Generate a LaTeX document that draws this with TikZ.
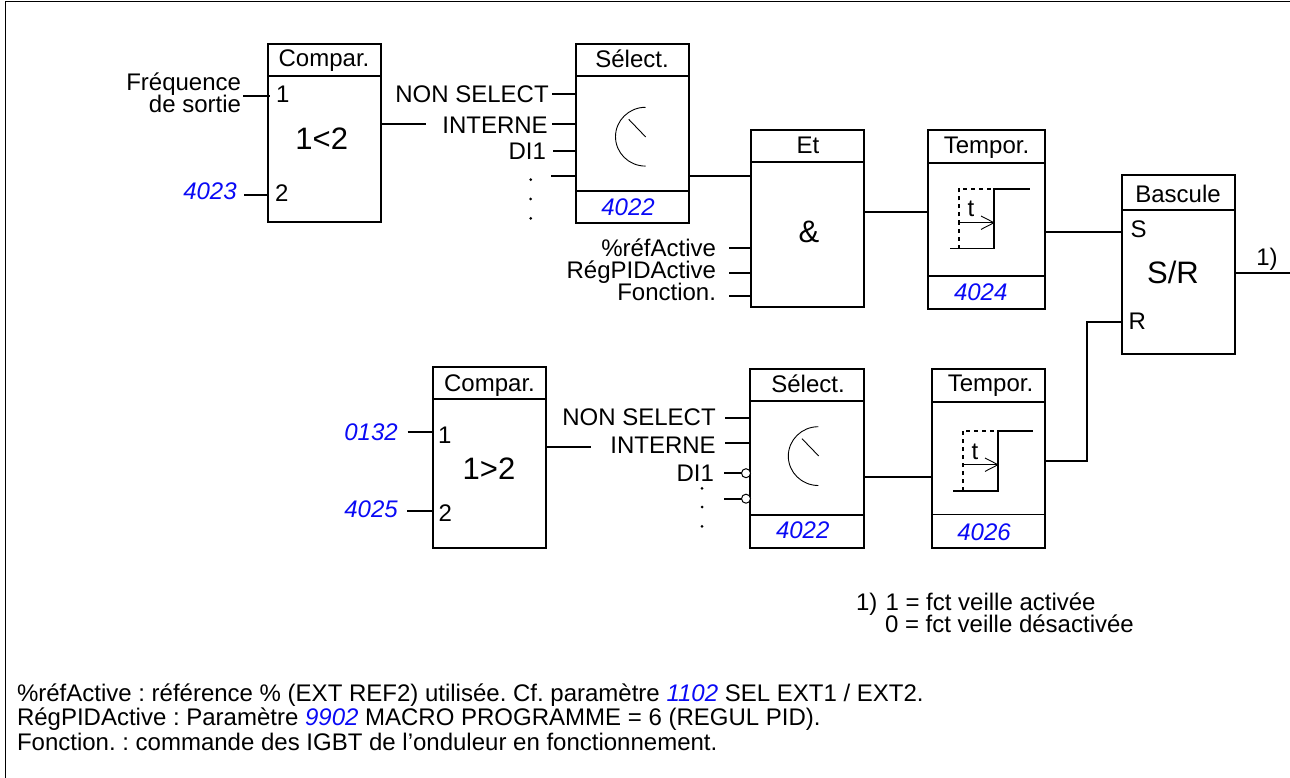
\documentclass[tikz,border=0pt]{standalone}
\usepackage{fontspec}
\setmainfont{Liberation Sans}
\frenchspacing
\definecolor{pblue}{RGB}{10,10,245}
\tikzset{
  x=1pt,y=-1pt,
  every node/.style={inner sep=0pt,outer sep=0pt,font=\fontsize{24}{24}\selectfont},
  wire/.style={line width=1.8pt,line cap=butt},
  box/.style={draw,line width=1.8pt,rectangle,anchor=north west},
  titletext/.style={anchor=base},
  lbl/.style={anchor=base east},
  pin/.style={anchor=base west},
  big/.style={anchor=base,font=\fontsize{31}{31}\selectfont},
  par/.style={anchor=base,text=pblue,font=\fontsize{24}{24}\selectfont\itshape},
  parl/.style={anchor=base east,text=pblue,font=\fontsize{24}{24}\selectfont\itshape},
  notes/.style={anchor=base west},
  dial/.style={line width=0.9pt},
  thinline/.style={line width=0.9pt},
  dashline/.style={line width=1.7pt,dash pattern=on 4pt off 4pt},
  dot/.style={circle,fill,minimum size=3pt},
  neg/.style={circle,draw,fill=white,line width=1pt,minimum size=9pt}
}
\newcommand{\fblock}[5]{% name, x, y, w, h
  \node[box,minimum width=#4 pt,minimum height=#5 pt] (#1) at (#2,#3) {};
}
\newcommand{\blue}[1]{{\color{pblue}\itshape #1}}
\begin{document}
\begin{tikzpicture}
\useasboundingbox (0,0) rectangle (1290,778);
% frame
\coordinate (fa) at (5.4,778); \coordinate (fb) at (5.4,1.3); \coordinate (fc) at (1290,1.3);
\draw[line width=1.3pt] (fa) -- (fb) -- (fc);

% blocks
\fblock{cA}{268}{44}{113}{178}
\fblock{sA}{576}{44}{113}{179}
\fblock{et}{751}{130}{113}{177}
\fblock{tA}{928}{130}{117}{179}
\fblock{ba}{1122}{175}{113}{179}
\fblock{cB}{433}{367}{113}{181}
\fblock{sB}{750}{369}{114}{179}
\fblock{tB}{932}{369}{113}{179}

% dividers
\foreach \n/\ya in {cA/76,sA/76,et/162,tA/163,ba/210,cB/399,sB/401,tB/402}{
  \coordinate (d\n) at (0,\ya);
  \draw[wire] (\n.west |- d\n) -- (\n.east |- d\n);
}
\foreach \n/\ya in {sA/191,tA/276,sB/515,tB/514.5}{
  \coordinate (e\n) at (0,\ya);
  \draw[wire] (\n.west |- e\n) -- (\n.east |- e\n);
}

% titles
\node[titletext] (tcA) at (324,67) {Compar.};
\node[titletext] (tsA) at (632,67.5) {Sélect.};
\node[titletext] (tet) at (808,154) {Et};
\node[titletext] (ttA) at (986.5,153.5) {Tempor.};
\node[titletext] (tba) at (1178,202.5) {Bascule};
\node[titletext] (tcB) at (489.5,391) {Compar.};
\node[titletext] (tsB) at (808,392) {Sélect.};
\node[titletext] (ttB) at (990.5,391) {Tempor.};

% big labels
\node[big] (bA) at (321.7,150) {1<2};
\node[big] (bB) at (489,479) {1>2};
\node[big] (bC) at (809,242) {\&};
\node[big] (bD) at (1173,283) {S/R};

% pin numbers
\node[pin] (pa1) at (276,102.7) {1};
\node[pin] (pa2) at (275,202) {2};
\node[pin] (pb1) at (438,443) {1};
\node[pin] (pb2) at (438.7,521.7) {2};
\node[pin] (ps) at (1130.5,237.5) {S};
\node[pin] (pr) at (1128.5,329.5) {R};
\node[anchor=base] (one) at (1267,265) {1)};

% parameter numbers
\node[par] (v1) at (628,215.7) {4022};
\node[par] (v2) at (980.7,300) {4024};
\node[par] (v3) at (802.7,538.7) {4022};
\node[par] (v4) at (984,540) {4026};
\node[parl] (v5) at (236.7,200) {4023};
\node[parl] (v6) at (397.7,440.7) {0132};
\node[parl] (v7) at (397.7,517.7) {4025};

% left labels
\node[lbl] (l1) at (241,90.7) {Fréquence};
\node[lbl] (l2) at (241,112.7) {de sortie};
\node[lbl] (l3) at (548.7,102.7) {NON SELECT};
\node[lbl] (l4) at (547.7,133.3) {INTERNE};
\node[lbl] (l5) at (546,160) {DI1};
\node[lbl] (l6) at (716,256.7) {\%réfActive};
\node[lbl] (l7) at (716,278.7) {RégPIDActive};
\node[lbl] (l8) at (716,300.7) {Fonction.};
\node[lbl] (l9) at (715.7,425.7) {NON SELECT};
\node[lbl] (l10) at (715.7,453.7) {INTERNE};
\node[lbl] (l11) at (714,481.7) {DI1};

% ellipsis dots
\foreach \n/\xa/\ya in {q1/530.7/179.7,q2/530.7/199,q3/530.7/218.3,q4/702/488.3,q5/702/507,q6/702/526.3}{
  \node[dot] (\n) at (\xa,\ya) {};
}

% connectors: free ends
\coordinate (i1) at (243,95.7);
\coordinate (i1e) at (270,95.7);
\coordinate (i2) at (244,194.7);
\coordinate (i3) at (552,94.3);
\coordinate (i4) at (552,123.7);
\coordinate (i5) at (553,151);
\coordinate (i6) at (551,176.3);
\coordinate (i7) at (729,248);
\coordinate (i8) at (729,272.7);
\coordinate (i9) at (729,295.7);
\coordinate (i10) at (407.7,431.7);
\coordinate (i11) at (407,511);
\coordinate (i12) at (725,417.7);
\coordinate (i13) at (725,443.3);
\coordinate (i14) at (724,473);
\coordinate (i15) at (724,498.7);
\coordinate (c1out) at (0,123.7);
\coordinate (c1end) at (425.7,123.7);
\coordinate (c2out) at (0,446.7);
\coordinate (c2end) at (590.7,446.7);
\coordinate (sAo) at (0,175.7);
\coordinate (tAo) at (0,231.7);
\coordinate (etO) at (0,211.7);
\coordinate (baO) at (1290,272.7);
\coordinate (sBo) at (0,477);
\coordinate (tBo) at (0,460.7);
\coordinate (rT) at (1087.3,322.3);
\coordinate (rB) at (1087.3,460.7);

\draw[wire] (i1) -- (i1e);
\draw[wire] (i2) -- (i2 -| cA.west);
\draw[wire] (i3) -- (i3 -| sA.west);
\draw[wire] (i4) -- (i4 -| sA.west);
\draw[wire] (i5) -- (i5 -| sA.west);
\draw[wire] (i6) -- (i6 -| sA.west);
\draw[wire] (i7) -- (i7 -| et.west);
\draw[wire] (i8) -- (i8 -| et.west);
\draw[wire] (i9) -- (i9 -| et.west);
\draw[wire] (i10) -- (i10 -| cB.west);
\draw[wire] (i11) -- (i11 -| cB.west);
\draw[wire] (i12) -- (i12 -| sB.west);
\draw[wire] (i13) -- (i13 -| sB.west);
\draw[wire] (i14) -- (i14 -| sB.west);
\draw[wire] (i15) -- (i15 -| sB.west);
\draw[wire] (cA.east |- c1out) -- (c1end);
\draw[wire] (cB.east |- c2out) -- (c2end);
\draw[wire] (sA.east |- sAo) -- (et.west |- sAo);
\draw[wire] (et.east |- etO) -- (tA.west |- etO);
\draw[wire] (tA.east |- tAo) -- (ba.west |- tAo);
\draw[wire] (ba.east |- baO) -- (baO);
\draw[wire] (sB.east |- sBo) -- (tB.west |- sBo);
\draw[wire] (tB.east |- tBo) -- (rB) -- (rT) -- (ba.west |- rT);

% inversion circles
\node[neg] (n1) at (746,473.2) {};
\node[neg] (n2) at (746,498.7) {};

% dials
\foreach \n/\xa/\ya/\pxa/\pya/\pxb/\pyb in {dA/645.5/107.3/628.7/119.3/645.7/137,dB/818.3/426.7/802/438.7/818.7/456}{
  \coordinate (\n t) at (\xa,\ya);
  \coordinate (\n a) at (\pxa,\pya);
  \coordinate (\n b) at (\pxb,\pyb);
  \draw[dial] (\n t) arc[start angle=270,end angle=90,x radius=30,y radius=29.4];
  \draw[dial] (\n a) -- (\n b);
}

% timers
\foreach \n/\xd/\xs/\xl/\xe/\yt/\yb/\ya/\xt/\yx in {A/958.7/994/950/1030/189/248.5/222.7/971/216.7,B/962.7/998/953/1032.7/430.7/491/464.7/975/459}{
  \coordinate (T\n dt) at (\xd,\yt);
  \coordinate (T\n db) at (\xd,\yb);
  \coordinate (T\n st) at (\xs,\yt);
  \coordinate (T\n sb) at (\xs,\yb);
  \coordinate (T\n l) at (\xl,\yb);
  \coordinate (T\n e) at (\xe,\yt);
  \coordinate (T\n a) at (\xd,\ya);
  \coordinate (T\n h) at (\xs,\ya);
  \draw[dashline] (T\n db) -- (T\n dt) -- (T\n st);
  \draw[wire] (T\n l) -- (T\n sb) -- (T\n st) -- (T\n e);
  \draw[wire,line width=1.3pt] (T\n a) -- (T\n h);
  \draw[thinline] (T\n h) ++(-13,-6.7) -- (T\n h) -- ++(-13,6.7);
  \node[anchor=base] (t\n) at (\xt,\yx) {t};
}

% notes
\node[notes] (n1a) at (856,610.7) {1)};
\node[notes] (n1b) at (885.5,610.7) {1 = fct veille activée};
\node[notes] (n1c) at (885,632) {0 = fct veille désactivée};
\node[notes] (f1) at (17,701) {\%réfActive : référence \% (EXT REF2) utilisée. Cf. paramètre \blue{1102} SEL EXT1 / EXT2.};
\node[notes] (f2) at (17,725) {RégPIDActive : Paramètre \blue{9902} MACRO PROGRAMME = 6 (REGUL PID).};
\node[notes] (f3) at (17,750) {Fonction. : commande des IGBT de l’onduleur en fonctionnement.};
\end{tikzpicture}
\end{document}
